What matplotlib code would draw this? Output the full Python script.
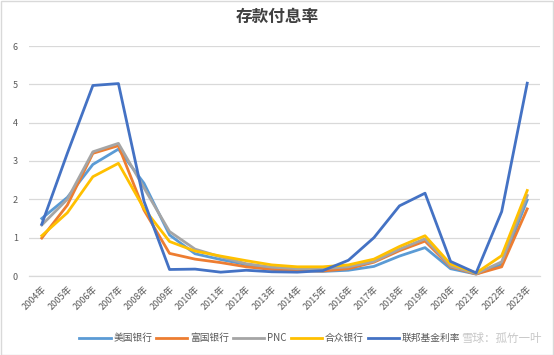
import matplotlib
matplotlib.use("Agg")
import matplotlib.pyplot as plt
from matplotlib.patches import Rectangle

plt.rcParams['font.family'] = ['Noto Sans CJK SC', 'DejaVu Sans']

years = [f"{y}年" for y in range(2004, 2024)]

boa = [1.50, 2.05, 2.91, 3.31, 2.42, 1.07, 0.58, 0.43, 0.30, 0.21, 0.15, 0.12, 0.15, 0.25, 0.52, 0.74, 0.19, 0.05, 0.30, 1.98]
wells = [0.99, 1.85, 3.20, 3.40, 1.72, 0.59, 0.44, 0.35, 0.24, 0.17, 0.14, 0.13, 0.19, 0.36, 0.66, 0.91, 0.24, 0.05, 0.24, 1.75]
pnc = [1.33, 2.00, 3.24, 3.46, 2.30, 1.16, 0.70, 0.50, 0.32, 0.23, 0.19, 0.19, 0.24, 0.38, 0.70, 0.97, 0.26, 0.06, 0.37, 2.10]
citizens = [1.05, 1.65, 2.59, 2.94, 1.76, 0.90, 0.65, 0.52, 0.40, 0.29, 0.24, 0.24, 0.29, 0.44, 0.77, 1.05, 0.31, 0.08, 0.53, 2.23]
fed = [1.35, 3.20, 4.97, 5.02, 1.95, 0.17, 0.18, 0.10, 0.15, 0.11, 0.10, 0.14, 0.41, 1.00, 1.83, 2.16, 0.38, 0.08, 1.68, 5.03]

series_names = ["美国银行", "富国银行", "PNC", "合众银行", "联邦基金利率"]
series_vals = [boa, wells, pnc, citizens, fed]
colors = ["#5B9BD5", "#ED7D31", "#A5A5A5", "#FFC000", "#4472C4"]

fig = plt.figure(figsize=(5.54, 3.55), dpi=100)
fig.patches.append(Rectangle((0.001, 0.001), 0.997, 0.996, transform=fig.transFigure,
                             fill=False, edgecolor="#D9D9D9", linewidth=1.0))

ax = fig.add_axes([29/554, 1-276/355, (540-29)/554, (276-46)/355])
x = list(range(len(years)))
for name, vals, c in zip(series_names, series_vals, colors):
    ax.plot(x, vals, color=c, linewidth=2.0, label=name, solid_joinstyle='round')

ax.set_xlim(-0.5, len(years) - 0.5)
ax.set_ylim(0, 6)
ax.set_yticks(range(0, 7))
ax.grid(axis='y', color="#D9D9D9", linewidth=0.9)
ax.set_axisbelow(True)
for s in ["top", "right", "left"]:
    ax.spines[s].set_visible(False)
ax.spines["bottom"].set_color("#D9D9D9")
ax.spines["bottom"].set_linewidth(0.9)
ax.tick_params(axis='both', length=0, colors="#595959", labelsize=6.5)
ax.tick_params(axis='y', pad=8)
ax.set_xticks(x)
ax.set_xticklabels(years, rotation=45, ha='right', va='top', rotation_mode='anchor')
ax.tick_params(axis='x', pad=6)

fig.text(0.5, 1-17/355, "存款付息率", ha='center', va='center', fontsize=12,
         fontweight='bold', color="#404040")

handles, labels = ax.get_legend_handles_labels()
leg = fig.legend(handles, labels, loc='center', bbox_to_anchor=(0.487, 1-338/355),
                 ncol=5, frameon=False, fontsize=7, handlelength=3.2,
                 columnspacing=0.4, handletextpad=0.3, labelcolor="#595959")

fig.text(0.978, 1-338/355, "雪球：孤竹一叶", ha='right', va='center', fontsize=8.3,
         color="#9A9A9A", alpha=0.55)

fig.savefig("out.png", dpi=100)
